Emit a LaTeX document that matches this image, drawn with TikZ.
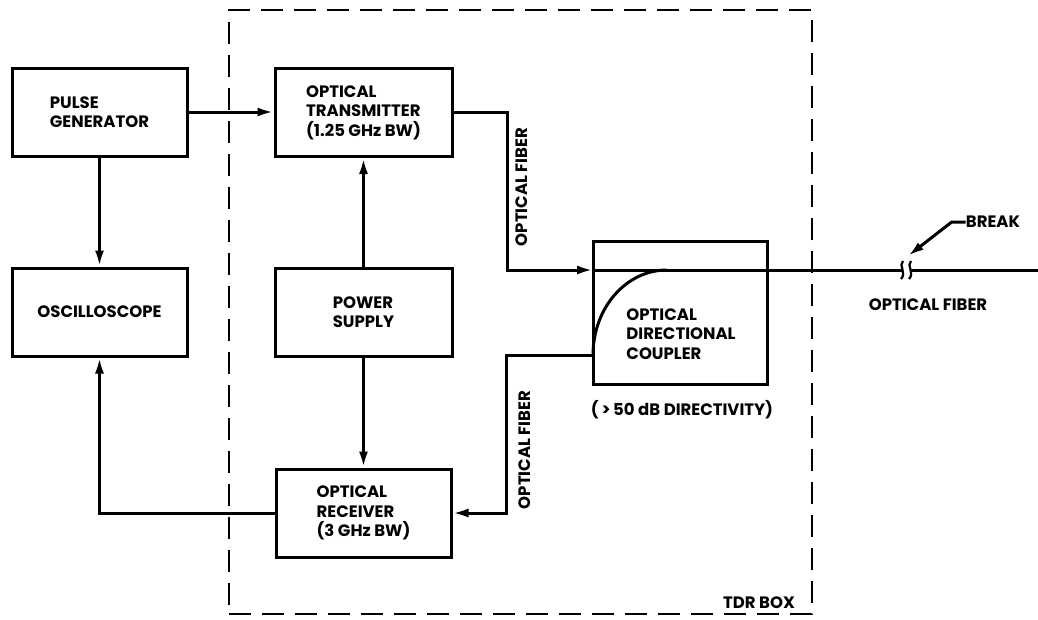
\documentclass[tikz,border=0pt]{standalone}
\usepackage{fontspec}
\setmainfont{Poppins}
\usetikzlibrary{arrows.meta}
\begin{document}
\begin{tikzpicture}[x=1pt,y=-1pt,
  txt/.style={font=\bfseries\fontsize{16.5}{19.5}\selectfont,align=left,inner sep=0pt},
  box/.style={txt,draw,line width=3pt,minimum height=88pt},
  conn/.style={line width=3pt},
  arr/.style={conn,-{Latex[length=16pt,width=9pt]}},
  tdrbox/.style={draw,line width=2.8pt,dash pattern=on 22pt off 11pt,minimum width=583pt,minimum height=604pt}
]
\useasboundingbox (0,0) rectangle (1038,619);
\node[tdrbox] (tdr) at (520.5,312) {};
\node[box,minimum width=175pt] (pg) at (99.5,112) {PULSE\\GENERATOR};
\node[box,minimum width=177pt] (tx) at (363.5,112.5) {OPTICAL\\TRANSMITTER\\(1.25 GHz BW)};
\node[box,minimum width=175pt] (osc) at (99.5,312) {OSCILLOSCOPE};
\node[box,minimum width=177pt] (ps) at (363.5,312) {POWER\\SUPPLY};
\node[box,minimum width=175pt] (rx) at (363.5,513) {OPTICAL\\RECEIVER\\(3 GHz BW)};
\node[draw,line width=3pt,minimum width=174pt,minimum height=143pt] (cp) at (680,312.5) {};
\node[txt] (cptxt) at (681,334) {OPTICAL\\DIRECTIONAL\\COUPLER};
\node[txt] (dir) at (682,410) {(\,>\,50 dB DIRECTIVITY)};
\node[txt] (tdrlbl) at (759,603) {TDR BOX};
\node[txt,rotate=90] (fib1) at (522,187) {OPTICAL FIBER};
\node[txt,rotate=90] (fib2) at (525,450) {OPTICAL FIBER};
\node[txt] (fib3) at (928,305) {OPTICAL FIBER};
\node[txt] (brk) at (993,222) {BREAK};
% coordinates
\coordinate (cin) at (593,270);
\coordinate (cbot) at (593,355);
\coordinate (cmerge) at (667,270);
\coordinate (brkL) at (902,270);
\coordinate (brkR) at (911,270);
\coordinate (fend) at (1038,270);
\coordinate (brktip) at (908,256);
% connectors
\draw[arr] (pg.east) -- (pg.east -| tx.west);
\draw[arr] (pg.south) -- (osc.north);
\draw[arr] (ps.north) -- (tx.south);
\draw[arr] (ps.south) -- (rx.north);
\draw[arr] (rx.west) -| (osc.south);
\draw[arr] (tx.east) -- ++(54,0) |- (cin);
\draw[conn] (cin) -- (brkL);
\draw[conn] (brkR) -- (fend);
\draw[conn] (cbot) .. controls (593,308) and (626,270) .. (cmerge);
\draw[arr] (cbot) -- ++(-87,0) |- (rx.east);
% break squiggles
\draw[line width=2.2pt] (903,261) .. controls (898,265) and (907,273) .. (901,279);
\draw[line width=2.2pt] (911,261) .. controls (906,265) and (915,273) .. (909,279);
\draw[conn,-{Latex[length=16pt,width=9pt]}] (brk.west) -- ++(-14,0) -- (brktip);
\end{tikzpicture}
\end{document}
